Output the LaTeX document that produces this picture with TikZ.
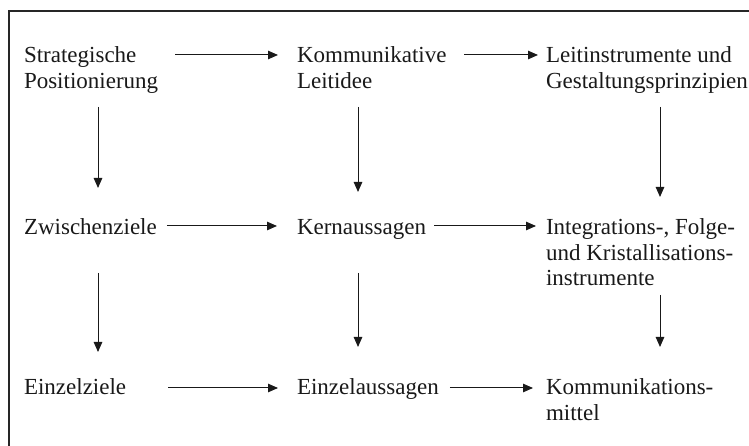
\documentclass[tikz,border=0pt]{standalone}
\usepackage{fontspec}
\setmainfont{Liberation Serif}
\usetikzlibrary{arrows.meta,calc}
\tikzset{
  lbl/.style={anchor=base west,inner sep=0pt,outer sep=0pt,text=black!90,font=\fontsize{23}{25.5}\selectfont},
  arr/.style={draw=black!90,line width=1pt,-{Triangle[length=10pt,width=8.5pt]}},
  frame/.style={draw=black!85,line width=1.3pt}
}
\newcommand{\lines}[1]{\begin{tabular}[t]{@{}l@{}}#1\end{tabular}}
\begin{document}
\begin{tikzpicture}[x=1pt,y=1pt]
\useasboundingbox (0,0) rectangle (749,446);
\draw[frame] (770,435) -- (9,435) -- (9,-20);
% nodes
\node[lbl] (sp) at (24,383) {\lines{Strategische\\Positionierung}};
\node[lbl] (kl) at (297,383) {\lines{Kommunikative\\Leitidee}};
\node[lbl] (li) at (546,383) {\lines{Leitinstrumente und\\Gestaltungsprinzipien}};
\node[lbl] (zw) at (24,211) {\lines{Zwischenziele}};
\node[lbl] (ka) at (297,211) {\lines{Kernaussagen}};
\node[lbl] (ik) at (546,211) {\lines{Integrations-, Folge-\\und Kristallisations-\\instrumente}};
\node[lbl] (ez) at (24,51) {\lines{Einzelziele}};
\node[lbl] (ea) at (297,51) {\lines{Einzelaussagen}};
\node[lbl] (km) at (546,51) {\lines{Kommunikations-\\mittel}};
% horizontal arrows
\draw[arr] ($(sp.base east)+(17,8)$) -- ($(kl.base west)+(-19,8)$);
\draw[arr] ($(kl.base east)+(18,8)$) -- ($(li.base west)+(-8,8)$);
\draw[arr] ($(zw.base east)+(10,9)$) -- ($(ka.base west)+(-20,9)$);
\draw[arr] ($(ka.base east)+(8,9)$) -- ($(ik.base west)+(-10,9)$);
\draw[arr] ($(ez.base east)+(42,7)$) -- ($(ea.base west)+(-19,7)$);
\draw[arr] ($(ea.base east)+(11,7)$) -- ($(km.base west)+(-13,7)$);
% vertical arrows
\draw[arr] ($(sp.base west)+(74,-44)$) -- ($(zw.base west)+(74,47)$);
\draw[arr] ($(kl.base west)+(61,-44)$) -- ($(ka.base west)+(61,43)$);
\draw[arr] ($(li.base west)+(114,-44)$) -- ($(ik.base west)+(114,38)$);
\draw[arr] ($(zw.base west)+(74,-38)$) -- ($(ez.base west)+(74,43)$);
\draw[arr] ($(ka.base west)+(61,-38)$) -- ($(ea.base west)+(61,48)$);
\draw[arr] ($(ik.base west)+(114,-60)$) -- ($(km.base west)+(114,48)$);
\end{tikzpicture}
\end{document}
